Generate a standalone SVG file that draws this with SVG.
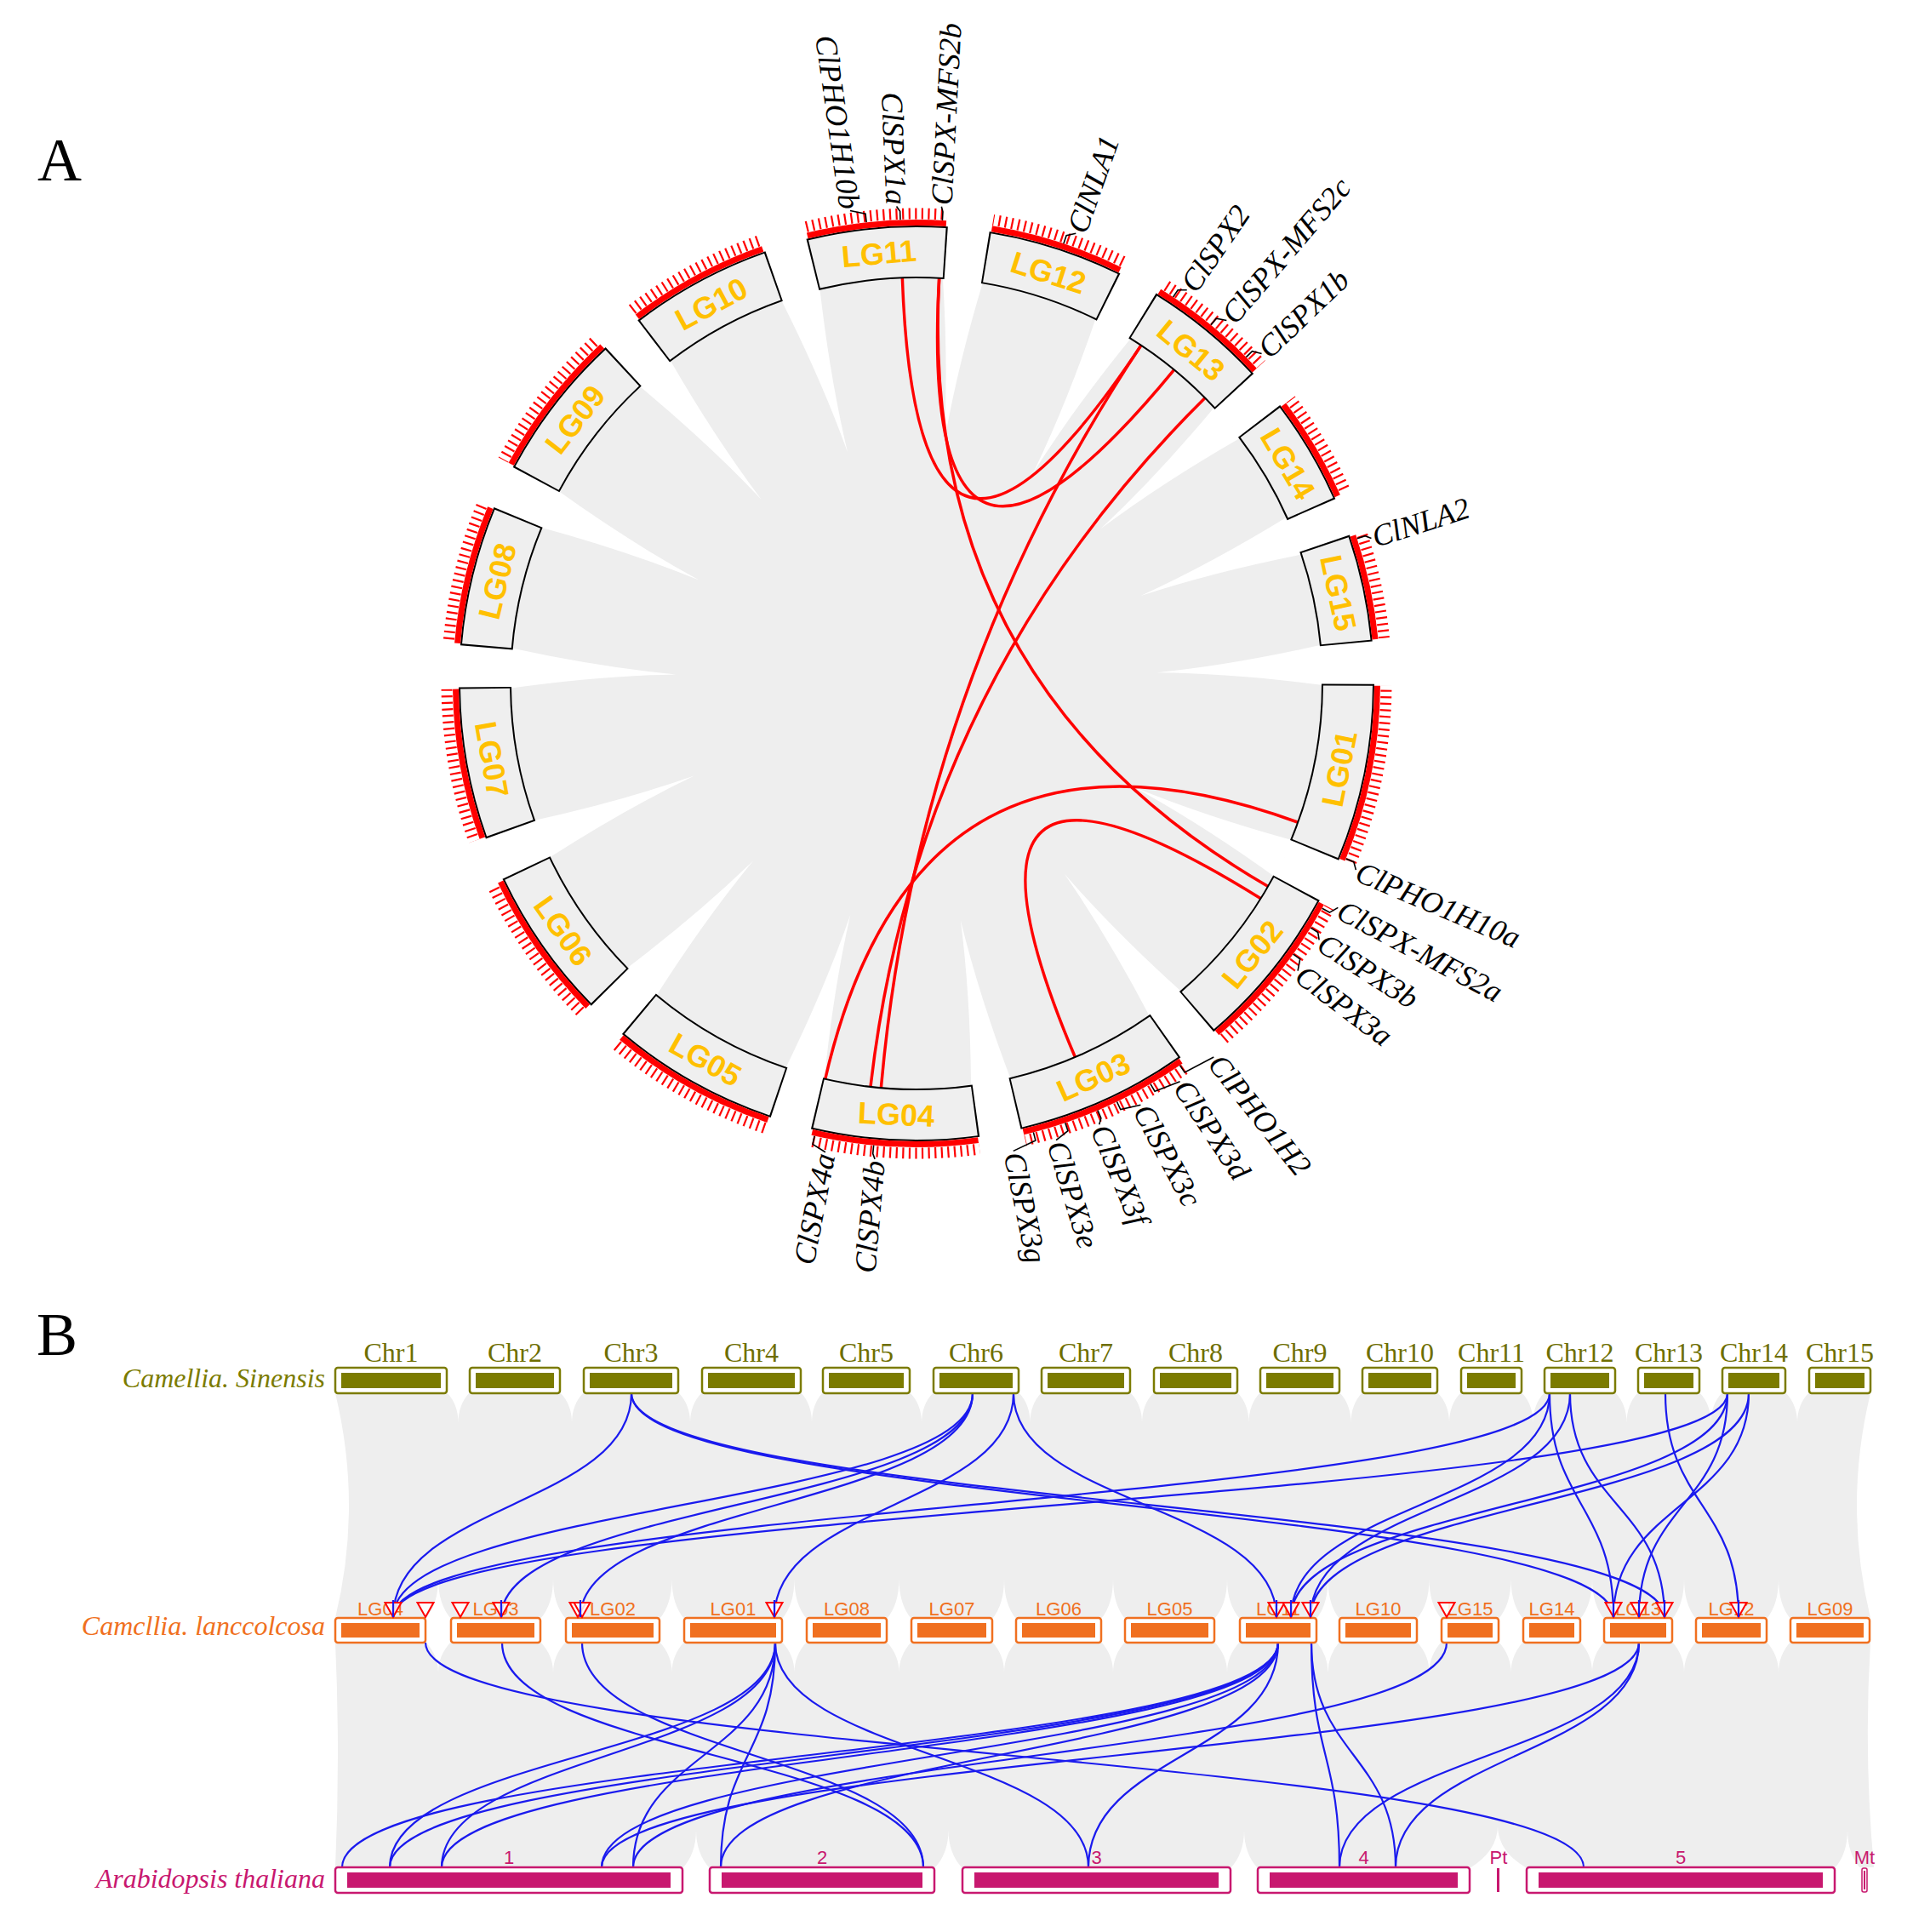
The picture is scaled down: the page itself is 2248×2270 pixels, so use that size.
<svg xmlns="http://www.w3.org/2000/svg" xmlns:xlink="http://www.w3.org/1999/xlink" width="2248" height="2270" viewBox="0 0 2248 2270">
<style>
.cb{fill:none;stroke:#000;stroke-width:62}
.cg{fill:none;stroke:#efefef;stroke-width:58}
.cr{fill:none;stroke:#ff0000;stroke-width:7}
.ge{fill:none;stroke:#fff;stroke-width:20}
.lgA{font-family:"Liberation Sans",Arial,sans-serif;font-weight:bold;font-size:36px;fill:#ffc000;text-anchor:middle;dominant-baseline:central}
.gl{font-family:"Liberation Serif","Times New Roman",serif;font-style:italic;font-size:36px;fill:#000;dominant-baseline:central}
.glL{text-anchor:end}
.conn{fill:none;stroke:#000;stroke-width:1.6}
.rl{fill:none;stroke:#ff0000;stroke-width:3.5}
.bl{fill:none;stroke:#1a1aee;stroke-width:2.2}
.o1{fill:#fff;stroke:#7b7b00;stroke-width:2.5}
.i1{fill:#7b7b00}
.t1{font-family:"Liberation Serif","Times New Roman",serif;font-size:32px;fill:#6e6e00;text-anchor:middle}
.o2{fill:#fff;stroke:#f07020;stroke-width:2.5}
.i2{fill:#f07020}
.t2{font-family:"Liberation Sans",Arial,sans-serif;font-size:22px;fill:#f07020;text-anchor:middle}
.o3{fill:#fff;stroke:#c8186f;stroke-width:2.5}
.i3{fill:#c8186f}
.t3{font-family:"Liberation Sans",Arial,sans-serif;font-size:22px;fill:#c8186f;text-anchor:middle}
.sp{font-family:"Liberation Serif","Times New Roman",serif;font-style:italic;font-size:32px;text-anchor:end}
.tri{fill:#fff;fill-opacity:0.85;stroke:#ff0000;stroke-width:2}
.big{font-family:"Liberation Serif","Times New Roman",serif;font-size:72px;fill:#000}
</style>
<defs>
<path id="cusp" d="M1053,324 Q1072,430 1077,520 Q1082,430 1101,324 Z" fill="#fff"/>
</defs>
<rect width="2248" height="2270" fill="#fff"/>
<text class="big" x="44" y="212">A</text>
<text class="big" x="43" y="1592">B</text>

<!-- Part A background ribbons -->
<g id="A-ribbons">
<circle cx="1077" cy="803" r="478" fill="#eeeeee"/>
<use xlink:href="#cusp" transform="rotate(6.55 1077 803)"/>
<use xlink:href="#cusp" transform="rotate(29 1077 803)"/>
<use xlink:href="#cusp" transform="rotate(50 1077 803)"/>
<use xlink:href="#cusp" transform="rotate(68.65 1077 803)"/>
<use xlink:href="#cusp" transform="rotate(87.4 1077 803)"/>
<use xlink:href="#cusp" transform="rotate(115.5 1077 803)"/>
<use xlink:href="#cusp" transform="rotate(142.15 1077 803)"/>
<use xlink:href="#cusp" transform="rotate(169.45 1077 803)"/>
<use xlink:href="#cusp" transform="rotate(195.95 1077 803)"/>
<use xlink:href="#cusp" transform="rotate(222.65 1077 803)"/>
<use xlink:href="#cusp" transform="rotate(247.45 1077 803)"/>
<use xlink:href="#cusp" transform="rotate(272.15 1077 803)"/>
<use xlink:href="#cusp" transform="rotate(295.4 1077 803)"/>
<use xlink:href="#cusp" transform="rotate(319.85 1077 803)"/>
<use xlink:href="#cusp" transform="rotate(343.4 1077 803)"/>
</g>

<!-- Part A connectors (red links) -->
<g id="A-links">
<path class="rl" d="M1060.3,325.3 Q1077,803 1341.5,404.9"/>
<path class="rl" d="M1103.7,325.8 Q1077,803 1380.4,433.6"/>
<path class="rl" d="M1103.7,325.8 Q1077,803 1491,1042"/>
<path class="rl" d="M1341.5,404.9 Q1077,803 1035.3,1279.2"/>
<path class="rl" d="M1416.8,466.8 Q1077,803 1022.9,1277.9"/>
<path class="rl" d="M1526.2,966.5 Q1077,803 969.5,1268.8"/>
<path class="rl" d="M1482.4,1056.3 Q1077,803 1263.8,1243"/>
</g>

<!-- ticks -->
<g id="A-ticks">
<circle cx="1077" cy="803" r="552" fill="none" stroke="#ff0000" stroke-width="13" stroke-dasharray="2.2 5.4"/>
<circle class="ge" cx="1077" cy="803" r="552" stroke-dasharray="54.9 4000" transform="rotate(-86.3 1077 803)"/>
<circle class="ge" cx="1077" cy="803" r="552" stroke-dasharray="53.95 4000" transform="rotate(-63.8 1077 803)"/>
<circle class="ge" cx="1077" cy="803" r="552" stroke-dasharray="53.95 4000" transform="rotate(-42.8 1077 803)"/>
<circle class="ge" cx="1077" cy="803" r="552" stroke-dasharray="51.06 4000" transform="rotate(-24 1077 803)"/>
<circle class="ge" cx="1077" cy="803" r="552" stroke-dasharray="55.88 4000" transform="rotate(-5.5 1077 803)"/>
<circle class="ge" cx="1077" cy="803" r="552" stroke-dasharray="57.8 4000" transform="rotate(22.5 1077 803)"/>
<circle class="ge" cx="1077" cy="803" r="552" stroke-dasharray="54.9 4000" transform="rotate(49.3 1077 803)"/>
<circle class="ge" cx="1077" cy="803" r="552" stroke-dasharray="54.9 4000" transform="rotate(76.6 1077 803)"/>
<circle class="ge" cx="1077" cy="803" r="552" stroke-dasharray="54.9 4000" transform="rotate(103.1 1077 803)"/>
<circle class="ge" cx="1077" cy="803" r="552" stroke-dasharray="54.9 4000" transform="rotate(129.8 1077 803)"/>
<circle class="ge" cx="1077" cy="803" r="552" stroke-dasharray="56.84 4000" transform="rotate(154.5 1077 803)"/>
<circle class="ge" cx="1077" cy="803" r="552" stroke-dasharray="54.9 4000" transform="rotate(179.3 1077 803)"/>
<circle class="ge" cx="1077" cy="803" r="552" stroke-dasharray="57.8 4000" transform="rotate(202.4 1077 803)"/>
<circle class="ge" cx="1077" cy="803" r="552" stroke-dasharray="54.9 4000" transform="rotate(227 1077 803)"/>
<circle class="ge" cx="1077" cy="803" r="552" stroke-dasharray="55.88 4000" transform="rotate(250.5 1077 803)"/>
</g>

<!-- Part A chromosome nodes -->
<g id="A-LG11"><circle class="cb" cx="1077" cy="803" r="507" stroke-dasharray="158.04 4000" transform="rotate(256.07 1077 803)"/><circle class="cg" cx="1077" cy="803" r="507" stroke-dasharray="153.97 4000" transform="rotate(256.3 1077 803)"/><circle class="cr" cx="1077" cy="803" r="541.5" stroke-dasharray="164.45 4000" transform="rotate(256.3 1077 803)"/><text class="lgA" x="1077" y="296" transform="rotate(-5 1077 803)">LG11</text></g>
<g id="A-LG12"><circle class="cb" cx="1077" cy="803" r="507" stroke-dasharray="152.73 4000" transform="rotate(-80.83 1077 803)"/><circle class="cg" cx="1077" cy="803" r="507" stroke-dasharray="148.66 4000" transform="rotate(-80.6 1077 803)"/><circle class="cr" cx="1077" cy="803" r="541.5" stroke-dasharray="158.78 4000" transform="rotate(-80.6 1077 803)"/><text class="lgA" x="1077" y="296" transform="rotate(17.8 1077 803)">LG12</text></g>
<g id="A-LG13"><circle class="cb" cx="1077" cy="803" r="507" stroke-dasharray="140.34 4000" transform="rotate(-58.43 1077 803)"/><circle class="cg" cx="1077" cy="803" r="507" stroke-dasharray="136.27 4000" transform="rotate(-58.2 1077 803)"/><circle class="cr" cx="1077" cy="803" r="541.5" stroke-dasharray="145.55 4000" transform="rotate(-58.2 1077 803)"/><text class="lgA" x="1077" y="296" transform="rotate(39.5 1077 803)">LG13</text></g>
<g id="A-LG14"><circle class="cb" cx="1077" cy="803" r="507" stroke-dasharray="120.87 4000" transform="rotate(-37.43 1077 803)"/><circle class="cg" cx="1077" cy="803" r="507" stroke-dasharray="116.8 4000" transform="rotate(-37.2 1077 803)"/><circle class="cr" cx="1077" cy="803" r="541.5" stroke-dasharray="124.75 4000" transform="rotate(-37.2 1077 803)"/><text class="lgA" x="1077" y="296" transform="rotate(59.4 1077 803)">LG14</text></g>
<g id="A-LG15"><circle class="cb" cx="1077" cy="803" r="507" stroke-dasharray="120.87 4000" transform="rotate(-18.93 1077 803)"/><circle class="cg" cx="1077" cy="803" r="507" stroke-dasharray="116.8 4000" transform="rotate(-18.7 1077 803)"/><circle class="cr" cx="1077" cy="803" r="541.5" stroke-dasharray="124.75 4000" transform="rotate(-18.7 1077 803)"/><text class="lgA" x="1077" y="296" transform="rotate(77.9 1077 803)">LG15</text></g>
<g id="A-LG01"><circle class="cb" cx="1077" cy="803" r="507" stroke-dasharray="200.51 4000" transform="rotate(0.07 1077 803)"/><circle class="cg" cx="1077" cy="803" r="507" stroke-dasharray="196.44 4000" transform="rotate(0.3 1077 803)"/><circle class="cr" cx="1077" cy="803" r="541.5" stroke-dasharray="209.81 4000" transform="rotate(0.3 1077 803)"/><text class="lgA" x="1077" y="1310" transform="rotate(-78.6 1077 803)">LG01</text></g>
<g id="A-LG02"><circle class="cb" cx="1077" cy="803" r="507" stroke-dasharray="188.13 4000" transform="rotate(28.27 1077 803)"/><circle class="cg" cx="1077" cy="803" r="507" stroke-dasharray="184.06 4000" transform="rotate(28.5 1077 803)"/><circle class="cr" cx="1077" cy="803" r="541.5" stroke-dasharray="196.58 4000" transform="rotate(28.5 1077 803)"/><text class="lgA" x="1077" y="1310" transform="rotate(-51.1 1077 803)">LG02</text></g>
<g id="A-LG03"><circle class="cb" cx="1077" cy="803" r="507" stroke-dasharray="195.2 4000" transform="rotate(54.77 1077 803)"/><circle class="cg" cx="1077" cy="803" r="507" stroke-dasharray="191.13 4000" transform="rotate(55 1077 803)"/><circle class="cr" cx="1077" cy="803" r="541.5" stroke-dasharray="204.14 4000" transform="rotate(55 1077 803)"/><text class="lgA" x="1077" y="1310" transform="rotate(-24.2 1077 803)">LG03</text></g>
<g id="A-LG04"><circle class="cb" cx="1077" cy="803" r="507" stroke-dasharray="188.13 4000" transform="rotate(82.07 1077 803)"/><circle class="cg" cx="1077" cy="803" r="507" stroke-dasharray="184.06 4000" transform="rotate(82.3 1077 803)"/><circle class="cr" cx="1077" cy="803" r="541.5" stroke-dasharray="196.58 4000" transform="rotate(82.3 1077 803)"/><text class="lgA" x="1077" y="1310" transform="rotate(2.7 1077 803)">LG04</text></g>
<g id="A-LG05"><circle class="cb" cx="1077" cy="803" r="507" stroke-dasharray="189.9 4000" transform="rotate(108.57 1077 803)"/><circle class="cg" cx="1077" cy="803" r="507" stroke-dasharray="185.82 4000" transform="rotate(108.8 1077 803)"/><circle class="cr" cx="1077" cy="803" r="541.5" stroke-dasharray="198.47 4000" transform="rotate(108.8 1077 803)"/><text class="lgA" x="1077" y="1310" transform="rotate(29.3 1077 803)">LG05</text></g>
<g id="A-LG06"><circle class="cb" cx="1077" cy="803" r="507" stroke-dasharray="172.2 4000" transform="rotate(135.27 1077 803)"/><circle class="cg" cx="1077" cy="803" r="507" stroke-dasharray="168.13 4000" transform="rotate(135.5 1077 803)"/><circle class="cr" cx="1077" cy="803" r="541.5" stroke-dasharray="179.57 4000" transform="rotate(135.5 1077 803)"/><text class="lgA" x="1077" y="1310" transform="rotate(55 1077 803)">LG06</text></g>
<g id="A-LG07"><circle class="cb" cx="1077" cy="803" r="507" stroke-dasharray="171.31 4000" transform="rotate(160.17 1077 803)"/><circle class="cg" cx="1077" cy="803" r="507" stroke-dasharray="167.24 4000" transform="rotate(160.4 1077 803)"/><circle class="cr" cx="1077" cy="803" r="541.5" stroke-dasharray="178.62 4000" transform="rotate(160.4 1077 803)"/><text class="lgA" x="1077" y="1310" transform="rotate(79.85 1077 803)">LG07</text></g>
<g id="A-LG08"><circle class="cb" cx="1077" cy="803" r="507" stroke-dasharray="158.04 4000" transform="rotate(184.77 1077 803)"/><circle class="cg" cx="1077" cy="803" r="507" stroke-dasharray="153.97 4000" transform="rotate(185 1077 803)"/><circle class="cr" cx="1077" cy="803" r="541.5" stroke-dasharray="164.45 4000" transform="rotate(185 1077 803)"/><text class="lgA" x="1077" y="296" transform="rotate(-76.3 1077 803)">LG08</text></g>
<g id="A-LG09"><circle class="cb" cx="1077" cy="803" r="507" stroke-dasharray="168.66 4000" transform="rotate(208.17 1077 803)"/><circle class="cg" cx="1077" cy="803" r="507" stroke-dasharray="164.59 4000" transform="rotate(208.4 1077 803)"/><circle class="cr" cx="1077" cy="803" r="541.5" stroke-dasharray="175.79 4000" transform="rotate(208.4 1077 803)"/><text class="lgA" x="1077" y="296" transform="rotate(-52.3 1077 803)">LG09</text></g>
<g id="A-LG10"><circle class="cb" cx="1077" cy="803" r="507" stroke-dasharray="161.58 4000" transform="rotate(232.47 1077 803)"/><circle class="cg" cx="1077" cy="803" r="507" stroke-dasharray="157.51 4000" transform="rotate(232.7 1077 803)"/><circle class="cr" cx="1077" cy="803" r="541.5" stroke-dasharray="168.23 4000" transform="rotate(232.7 1077 803)"/><text class="lgA" x="1077" y="296" transform="rotate(-28.4 1077 803)">LG10</text></g>

<!-- gene label leader lines -->
<g id="A-leaders">
<polyline class="conn" points="1077,258 1077,248 1059.4,242.3" transform="rotate(353.8 1077 803)"/>
<polyline class="conn" points="1077,258 1077,248 1073.1,242" transform="rotate(358 1077 803)"/>
<polyline class="conn" points="1077,258 1077,248 1075,242" transform="rotate(3.2 1077 803)"/>
<polyline class="conn" points="1077,258 1077,248 1086.8,242.1" transform="rotate(18.5 1077 803)"/>
<polyline class="conn" points="1077,258 1077,248 1085.8,242.1" transform="rotate(33.6 1077 803)"/>
<polyline class="conn" points="1077,258 1077,248 1087.8,242.1" transform="rotate(39.4 1077 803)"/>
<polyline class="conn" points="1077,258 1077,248 1086.8,242.1" transform="rotate(45.3 1077 803)"/>
<polyline class="conn" points="1077,258 1077,248 1081.9,242" transform="rotate(71.8 1077 803)"/>
<polyline class="conn" points="1077,258 1077,248 1084.8,242.1" transform="rotate(112.2 1077 803)"/>
<polyline class="conn" points="1077,258 1077,248 1067.2,242.1" transform="rotate(119 1077 803)"/>
<polyline class="conn" points="1077,258 1077,248 1083.9,242" transform="rotate(121.8 1077 803)"/>
<polyline class="conn" points="1077,258 1077,248 1089.7,242.1" transform="rotate(125.7 1077 803)"/>
<polyline class="conn" points="1077,258 1077,248 1038.8,243.3" transform="rotate(145.4 1077 803)"/>
<polyline class="conn" points="1077,258 1077,248 1045.7,242.9" transform="rotate(149.7 1077 803)"/>
<polyline class="conn" points="1077,258 1077,248 1053.5,242.5" transform="rotate(154.4 1077 803)"/>
<polyline class="conn" points="1077,258 1077,248 1081.9,242" transform="rotate(157 1077 803)"/>
<polyline class="conn" points="1077,258 1077,248 1093.6,242.2" transform="rotate(161.3 1077 803)"/>
<polyline class="conn" points="1077,258 1077,248 1105.4,242.7" transform="rotate(165.4 1077 803)"/>
<polyline class="conn" points="1077,258 1077,248 1074.1,242" transform="rotate(185.3 1077 803)"/>
<polyline class="conn" points="1077,258 1077,248 1060.4,242.2" transform="rotate(192.7 1077 803)"/>
</g>

<g id="A-genes">
<text class="gl glL" x="514" y="803" transform="rotate(82 1077 803)">ClPHO1H10b</text>
<text class="gl glL" x="514" y="803" transform="rotate(87.6 1077 803)">ClSPX1a</text>
<text class="gl" x="1640" y="803" transform="rotate(-87 1077 803)">ClSPX-MFS2b</text>
<text class="gl" x="1640" y="803" transform="rotate(-70.5 1077 803)">ClNLA1</text>
<text class="gl" x="1640" y="803" transform="rotate(-55.5 1077 803)">ClSPX2</text>
<text class="gl" x="1640" y="803" transform="rotate(-49.5 1077 803)">ClSPX-MFS2c</text>
<text class="gl" x="1640" y="803" transform="rotate(-43.7 1077 803)">ClSPX1b</text>
<text class="gl" x="1640" y="803" transform="rotate(-17.7 1077 803)">ClNLA2</text>
<text class="gl" x="1640" y="803" transform="rotate(23 1077 803)">ClPHO1H10a</text>
<text class="gl" x="1640" y="803" transform="rotate(28 1077 803)">ClSPX-MFS2a</text>
<text class="gl" x="1640" y="803" transform="rotate(32.5 1077 803)">ClSPX3b</text>
<text class="gl" x="1640" y="803" transform="rotate(37 1077 803)">ClSPX3a</text>
<text class="gl" x="1640" y="803" transform="rotate(51.5 1077 803)">ClPHO1H2</text>
<text class="gl" x="1640" y="803" transform="rotate(56.5 1077 803)">ClSPX3d</text>
<text class="gl" x="1640" y="803" transform="rotate(62 1077 803)">ClSPX3c</text>
<text class="gl" x="1640" y="803" transform="rotate(67.5 1077 803)">ClSPX3f</text>
<text class="gl" x="1640" y="803" transform="rotate(73 1077 803)">ClSPX3e</text>
<text class="gl" x="1640" y="803" transform="rotate(78.3 1077 803)">ClSPX3g</text>
<text class="gl glL" x="514" y="803" transform="rotate(-85 1077 803)">ClSPX4b</text>
<text class="gl glL" x="514" y="803" transform="rotate(-79 1077 803)">ClSPX4a</text>
</g>

<!-- Part B background -->
<g id="B-ribbons">
<path d="M394,1637 L2198,1637 Q2166,1769 2198,1901 L394,1901 Q426,1769 394,1637 Z" fill="#eeeeee"/>
<path d="M394,1930 L2198,1930 Q2190,2062 2202,2194 L394,2194 Q400,2062 394,1930 Z" fill="#eeeeee"/>
<path fill="#fff" d="M525,1636 Q538.5,1650 538.5,1672 Q538.5,1650 552,1636 Z M658,1636 Q672,1650 672,1672 Q672,1650 686,1636 Z M797,1636 Q811,1650 811,1672 Q811,1650 825,1636 Z M941,1636 Q954,1650 954,1672 Q954,1650 967,1636 Z M1069,1636 Q1083,1650 1083,1672 Q1083,1650 1097,1636 Z M1197,1636 Q1210.5,1650 1210.5,1672 Q1210.5,1650 1224,1636 Z M1328,1636 Q1342,1650 1342,1672 Q1342,1650 1356,1636 Z M1454,1636 Q1467.5,1650 1467.5,1672 Q1467.5,1650 1481,1636 Z M1574,1636 Q1587.5,1650 1587.5,1672 Q1587.5,1650 1601,1636 Z M1689,1636 Q1703,1650 1703,1672 Q1703,1650 1717,1636 Z M1788,1636 Q1801.5,1650 1801.5,1672 Q1801.5,1650 1815,1636 Z M1898,1636 Q1911.5,1650 1911.5,1672 Q1911.5,1650 1925,1636 Z M1997,1636 Q2010.5,1650 2010.5,1672 Q2010.5,1650 2024,1636 Z M2098,1636 Q2112,1650 2112,1672 Q2112,1650 2126,1636 Z"/>
<path fill="#fff" d="M500,1902 Q515,1885 515,1855 Q515,1885 530,1902 Z M635,1902 Q650,1885 650,1855 Q650,1885 665,1902 Z M775,1902 Q789.5,1885 789.5,1855 Q789.5,1885 804,1902 Z M919,1902 Q933.5,1885 933.5,1855 Q933.5,1885 948,1902 Z M1042,1902 Q1056.5,1885 1056.5,1855 Q1056.5,1885 1071,1902 Z M1166,1902 Q1180,1885 1180,1855 Q1180,1885 1194,1902 Z M1294,1902 Q1308,1885 1308,1855 Q1308,1885 1322,1902 Z M1427,1902 Q1442,1885 1442,1855 Q1442,1885 1457,1902 Z M1547,1902 Q1560.5,1885 1560.5,1855 Q1560.5,1885 1574,1902 Z M1665,1902 Q1679.5,1885 1679.5,1855 Q1679.5,1885 1694,1902 Z M1761,1902 Q1775.5,1885 1775.5,1855 Q1775.5,1885 1790,1902 Z M1857,1902 Q1871,1885 1871,1855 Q1871,1885 1885,1902 Z M1965,1902 Q1979,1885 1979,1855 Q1979,1885 1993,1902 Z M2076,1902 Q2090,1885 2090,1855 Q2090,1885 2104,1902 Z"/>
<path fill="#fff" d="M500,1929 Q515,1945 515,1965 Q515,1945 530,1929 Z M635,1929 Q650,1945 650,1965 Q650,1945 665,1929 Z M775,1929 Q789.5,1945 789.5,1965 Q789.5,1945 804,1929 Z M919,1929 Q933.5,1945 933.5,1965 Q933.5,1945 948,1929 Z M1042,1929 Q1056.5,1945 1056.5,1965 Q1056.5,1945 1071,1929 Z M1166,1929 Q1180,1945 1180,1965 Q1180,1945 1194,1929 Z M1294,1929 Q1308,1945 1308,1965 Q1308,1945 1322,1929 Z M1427,1929 Q1442,1945 1442,1965 Q1442,1945 1457,1929 Z M1547,1929 Q1560.5,1945 1560.5,1965 Q1560.5,1945 1574,1929 Z M1665,1929 Q1679.5,1945 1679.5,1965 Q1679.5,1945 1694,1929 Z M1761,1929 Q1775.5,1945 1775.5,1965 Q1775.5,1945 1790,1929 Z M1857,1929 Q1871,1945 1871,1965 Q1871,1945 1885,1929 Z M1965,1929 Q1979,1945 1979,1965 Q1979,1945 1993,1929 Z M2076,1929 Q2090,1945 2090,1965 Q2090,1945 2104,1929 Z"/>
<path fill="#fff" d="M802,2195 Q818,2178 818,2150 Q818,2178 834,2195 Z M1098,2195 Q1114.5,2178 1114.5,2150 Q1114.5,2178 1131,2195 Z M1446,2195 Q1462,2178 1462,2150 Q1462,2178 1478,2195 Z M1727,2195 Q1760,2175 1760,2145 Q1760,2175 1794,2195 Z M2156,2195 Q2171,2178 2171,2150 Q2171,2178 2186,2195 Z"/>
</g>

<!-- Part B connectors -->
<g id="B-links">
<path class="bl" d="M742,1637 C742,1768 462,1768 462,1900"/>
<path class="bl" d="M742,1637 C742,1768 1896,1768 1896,1900"/>
<path class="bl" d="M742,1637 C742,1768 1956,1768 1956,1900"/>
<path class="bl" d="M1143,1637 C1143,1768 462,1768 462,1900"/>
<path class="bl" d="M1143,1637 C1143,1768 589,1768 589,1900"/>
<path class="bl" d="M1143,1637 C1143,1768 682,1768 682,1900"/>
<path class="bl" d="M1191,1637 C1191,1768 910,1768 910,1900"/>
<path class="bl" d="M1191,1637 C1191,1768 1500,1768 1500,1900"/>
<path class="bl" d="M1821,1637 C1821,1768 462,1768 462,1900"/>
<path class="bl" d="M2030,1637 C2030,1768 462,1768 462,1900"/>
<path class="bl" d="M1821,1637 C1821,1768 1517,1768 1517,1900"/>
<path class="bl" d="M1845,1637 C1845,1768 1540,1768 1540,1900"/>
<path class="bl" d="M2030,1637 C2030,1768 1517,1768 1517,1900"/>
<path class="bl" d="M2055,1637 C2055,1768 1540,1768 1540,1900"/>
<path class="bl" d="M1821,1637 C1821,1768 1896,1768 1896,1900"/>
<path class="bl" d="M1845,1637 C1845,1768 1956,1768 1956,1900"/>
<path class="bl" d="M2030,1637 C2030,1768 1926,1768 1926,1900"/>
<path class="bl" d="M2055,1637 C2055,1768 1896,1768 1896,1900"/>
<path class="bl" d="M1957,1637 C1957,1768 2043,1768 2043,1900"/>
<path class="bl" d="M500,1930 C500,2062 1861,2062 1861,2194"/>
<path class="bl" d="M590,1930 C590,2062 1085,2062 1085,2194"/>
<path class="bl" d="M684,1930 C684,2062 1085,2062 1085,2194"/>
<path class="bl" d="M911,1930 C911,2062 458,2062 458,2194"/>
<path class="bl" d="M911,1930 C911,2062 519,2062 519,2194"/>
<path class="bl" d="M911,1930 C911,2062 744,2062 744,2194"/>
<path class="bl" d="M911,1930 C911,2062 847,2062 847,2194"/>
<path class="bl" d="M911,1930 C911,2062 1279,2062 1279,2194"/>
<path class="bl" d="M1502,1930 C1502,2062 402,2062 402,2194"/>
<path class="bl" d="M1502,1930 C1502,2062 458,2062 458,2194"/>
<path class="bl" d="M1502,1930 C1502,2062 519,2062 519,2194"/>
<path class="bl" d="M1502,1930 C1502,2062 707,2062 707,2194"/>
<path class="bl" d="M1502,1930 C1502,2062 847,2062 847,2194"/>
<path class="bl" d="M1502,1930 C1502,2062 1279,2062 1279,2194"/>
<path class="bl" d="M1541,1930 C1541,2062 1574,2062 1574,2194"/>
<path class="bl" d="M1541,1930 C1541,2062 1640,2062 1640,2194"/>
<path class="bl" d="M1700,1930 C1700,2062 744,2062 744,2194"/>
<path class="bl" d="M1926,1930 C1926,2062 707,2062 707,2194"/>
<path class="bl" d="M1926,1930 C1926,2062 1574,2062 1574,2194"/>
<path class="bl" d="M1926,1930 C1926,2062 1640,2062 1640,2194"/>
</g>

<!-- Row 1: Camellia sinensis -->
<text class="sp" x="382" y="1630" fill="#7b7b00">Camellia. Sinensis</text>
<g id="B-Chr1"><rect class="o1" x="394" y="1607" width="131" height="30" rx="3"/><rect class="i1" x="401" y="1613" width="117" height="18"/><text class="t1" x="459.5" y="1600">Chr1</text></g>
<g id="B-Chr2"><rect class="o1" x="552" y="1607" width="106" height="30" rx="3"/><rect class="i1" x="559" y="1613" width="92" height="18"/><text class="t1" x="605" y="1600">Chr2</text></g>
<g id="B-Chr3"><rect class="o1" x="686" y="1607" width="111" height="30" rx="3"/><rect class="i1" x="693" y="1613" width="97" height="18"/><text class="t1" x="741.5" y="1600">Chr3</text></g>
<g id="B-Chr4"><rect class="o1" x="825" y="1607" width="116" height="30" rx="3"/><rect class="i1" x="832" y="1613" width="102" height="18"/><text class="t1" x="883" y="1600">Chr4</text></g>
<g id="B-Chr5"><rect class="o1" x="967" y="1607" width="102" height="30" rx="3"/><rect class="i1" x="974" y="1613" width="88" height="18"/><text class="t1" x="1018" y="1600">Chr5</text></g>
<g id="B-Chr6"><rect class="o1" x="1097" y="1607" width="100" height="30" rx="3"/><rect class="i1" x="1104" y="1613" width="86" height="18"/><text class="t1" x="1147" y="1600">Chr6</text></g>
<g id="B-Chr7"><rect class="o1" x="1224" y="1607" width="104" height="30" rx="3"/><rect class="i1" x="1231" y="1613" width="90" height="18"/><text class="t1" x="1276" y="1600">Chr7</text></g>
<g id="B-Chr8"><rect class="o1" x="1356" y="1607" width="98" height="30" rx="3"/><rect class="i1" x="1363" y="1613" width="84" height="18"/><text class="t1" x="1405" y="1600">Chr8</text></g>
<g id="B-Chr9"><rect class="o1" x="1481" y="1607" width="93" height="30" rx="3"/><rect class="i1" x="1488" y="1613" width="79" height="18"/><text class="t1" x="1527.5" y="1600">Chr9</text></g>
<g id="B-Chr10"><rect class="o1" x="1601" y="1607" width="88" height="30" rx="3"/><rect class="i1" x="1608" y="1613" width="74" height="18"/><text class="t1" x="1645" y="1600">Chr10</text></g>
<g id="B-Chr11"><rect class="o1" x="1717" y="1607" width="71" height="30" rx="3"/><rect class="i1" x="1724" y="1613" width="57" height="18"/><text class="t1" x="1752.5" y="1600">Chr11</text></g>
<g id="B-Chr12"><rect class="o1" x="1815" y="1607" width="83" height="30" rx="3"/><rect class="i1" x="1822" y="1613" width="69" height="18"/><text class="t1" x="1856.5" y="1600">Chr12</text></g>
<g id="B-Chr13"><rect class="o1" x="1925" y="1607" width="72" height="30" rx="3"/><rect class="i1" x="1932" y="1613" width="58" height="18"/><text class="t1" x="1961" y="1600">Chr13</text></g>
<g id="B-Chr14"><rect class="o1" x="2024" y="1607" width="74" height="30" rx="3"/><rect class="i1" x="2031" y="1613" width="60" height="18"/><text class="t1" x="2061" y="1600">Chr14</text></g>
<g id="B-Chr15"><rect class="o1" x="2126" y="1607" width="72" height="30" rx="3"/><rect class="i1" x="2133" y="1613" width="58" height="18"/><text class="t1" x="2162" y="1600">Chr15</text></g>

<!-- Row 2: Camellia lanceoleosa -->
<text class="sp" x="382" y="1921" fill="#f07020">Camcllia. lanccolcosa</text>
<g id="B-LG04"><rect class="o2" x="394" y="1901" width="106" height="29" rx="3"/><rect class="i2" x="401" y="1907" width="92" height="17"/><text class="t2" x="447" y="1898">LG04</text></g>
<g id="B-LG03"><rect class="o2" x="530" y="1901" width="105" height="29" rx="3"/><rect class="i2" x="537" y="1907" width="91" height="17"/><text class="t2" x="582.5" y="1898">LG03</text></g>
<g id="B-LG02"><rect class="o2" x="665" y="1901" width="110" height="29" rx="3"/><rect class="i2" x="672" y="1907" width="96" height="17"/><text class="t2" x="720" y="1898">LG02</text></g>
<g id="B-LG01"><rect class="o2" x="804" y="1901" width="115" height="29" rx="3"/><rect class="i2" x="811" y="1907" width="101" height="17"/><text class="t2" x="861.5" y="1898">LG01</text></g>
<g id="B-LG08"><rect class="o2" x="948" y="1901" width="94" height="29" rx="3"/><rect class="i2" x="955" y="1907" width="80" height="17"/><text class="t2" x="995" y="1898">LG08</text></g>
<g id="B-LG07"><rect class="o2" x="1071" y="1901" width="95" height="29" rx="3"/><rect class="i2" x="1078" y="1907" width="81" height="17"/><text class="t2" x="1118.5" y="1898">LG07</text></g>
<g id="B-LG06"><rect class="o2" x="1194" y="1901" width="100" height="29" rx="3"/><rect class="i2" x="1201" y="1907" width="86" height="17"/><text class="t2" x="1244" y="1898">LG06</text></g>
<g id="B-LG05"><rect class="o2" x="1322" y="1901" width="105" height="29" rx="3"/><rect class="i2" x="1329" y="1907" width="91" height="17"/><text class="t2" x="1374.5" y="1898">LG05</text></g>
<g id="B-LG11"><rect class="o2" x="1457" y="1901" width="90" height="29" rx="3"/><rect class="i2" x="1464" y="1907" width="76" height="17"/><text class="t2" x="1502" y="1898">LG11</text></g>
<g id="B-LG10"><rect class="o2" x="1574" y="1901" width="91" height="29" rx="3"/><rect class="i2" x="1581" y="1907" width="77" height="17"/><text class="t2" x="1619.5" y="1898">LG10</text></g>
<g id="B-LG15"><rect class="o2" x="1694" y="1901" width="67" height="29" rx="3"/><rect class="i2" x="1701" y="1907" width="53" height="17"/><text class="t2" x="1727.5" y="1898">LG15</text></g>
<g id="B-LG14"><rect class="o2" x="1790" y="1901" width="67" height="29" rx="3"/><rect class="i2" x="1797" y="1907" width="53" height="17"/><text class="t2" x="1823.5" y="1898">LG14</text></g>
<g id="B-LG13"><rect class="o2" x="1885" y="1901" width="80" height="29" rx="3"/><rect class="i2" x="1892" y="1907" width="66" height="17"/><text class="t2" x="1925" y="1898">LG13</text></g>
<g id="B-LG12"><rect class="o2" x="1993" y="1901" width="83" height="29" rx="3"/><rect class="i2" x="2000" y="1907" width="69" height="17"/><text class="t2" x="2034.5" y="1898">LG12</text></g>
<g id="B-LG09"><rect class="o2" x="2104" y="1901" width="93" height="29" rx="3"/><rect class="i2" x="2111" y="1907" width="79" height="17"/><text class="t2" x="2150.5" y="1898">LG09</text></g>

<g id="B-markers">
<polygon class="tri" points="452.5,1883 471.5,1883 462,1900"/>
<polygon class="tri" points="490.5,1883 509.5,1883 500,1900"/>
<polygon class="tri" points="531.5,1883 550.5,1883 541,1900"/>
<polygon class="tri" points="579.5,1883 598.5,1883 589,1900"/>
<polygon class="tri" points="669.5,1883 688.5,1883 679,1900"/>
<polygon class="tri" points="674.5,1883 693.5,1883 684,1900"/>
<polygon class="tri" points="900.5,1883 919.5,1883 910,1900"/>
<polygon class="tri" points="1490.5,1883 1509.5,1883 1500,1900"/>
<polygon class="tri" points="1507.5,1883 1526.5,1883 1517,1900"/>
<polygon class="tri" points="1530.5,1883 1549.5,1883 1540,1900"/>
<polygon class="tri" points="1690.5,1883 1709.5,1883 1700,1900"/>
<polygon class="tri" points="1886.5,1883 1905.5,1883 1896,1900"/>
<polygon class="tri" points="1916.5,1883 1935.5,1883 1926,1900"/>
<polygon class="tri" points="1946.5,1883 1965.5,1883 1956,1900"/>
<polygon class="tri" points="2033.5,1883 2052.5,1883 2043,1900"/>
</g>
<g id="B-marker-lines">
<path class="bl" d="M462,1880 L462,1900 M589,1880 L589,1900 M682,1880 L682,1900 M910,1880 L910,1900 M1500,1880 L1500,1900 M1517,1880 L1517,1900 M1540,1880 L1540,1900 M1896,1880 L1896,1900 M1926,1880 L1926,1900 M1956,1880 L1956,1900 M2043,1880 L2043,1900"/>
</g>

<!-- Row 3: Arabidopsis thaliana -->
<text class="sp" x="382" y="2218" fill="#c8186f">Arabidopsis thaliana</text>
<g id="B-At1"><rect class="o3" x="394" y="2194" width="408" height="30" rx="3"/><rect class="i3" x="408" y="2200" width="380" height="18"/><text class="t3" x="598" y="2190">1</text></g>
<g id="B-At2"><rect class="o3" x="834" y="2194" width="264" height="30" rx="3"/><rect class="i3" x="848" y="2200" width="236" height="18"/><text class="t3" x="966" y="2190">2</text></g>
<g id="B-At3"><rect class="o3" x="1131" y="2194" width="315" height="30" rx="3"/><rect class="i3" x="1145" y="2200" width="287" height="18"/><text class="t3" x="1288.5" y="2190">3</text></g>
<g id="B-At4"><rect class="o3" x="1478" y="2194" width="249" height="30" rx="3"/><rect class="i3" x="1492" y="2200" width="221" height="18"/><text class="t3" x="1602.5" y="2190">4</text></g>
<g id="B-AtPt"><rect class="i3" x="1759" y="2195" width="3" height="28"/><text class="t3" x="1761" y="2190">Pt</text></g>
<g id="B-At5"><rect class="o3" x="1794" y="2194" width="362" height="30" rx="3"/><rect class="i3" x="1808" y="2200" width="334" height="18"/><text class="t3" x="1975" y="2190">5</text></g>
<g id="B-AtMt"><rect x="2188" y="2195" width="6" height="28" rx="2" fill="#fff" stroke="#c8186f" stroke-width="1.5"/><rect class="i3" x="2190" y="2198" width="2" height="22"/><text class="t3" x="2191" y="2190">Mt</text></g>
</svg>
